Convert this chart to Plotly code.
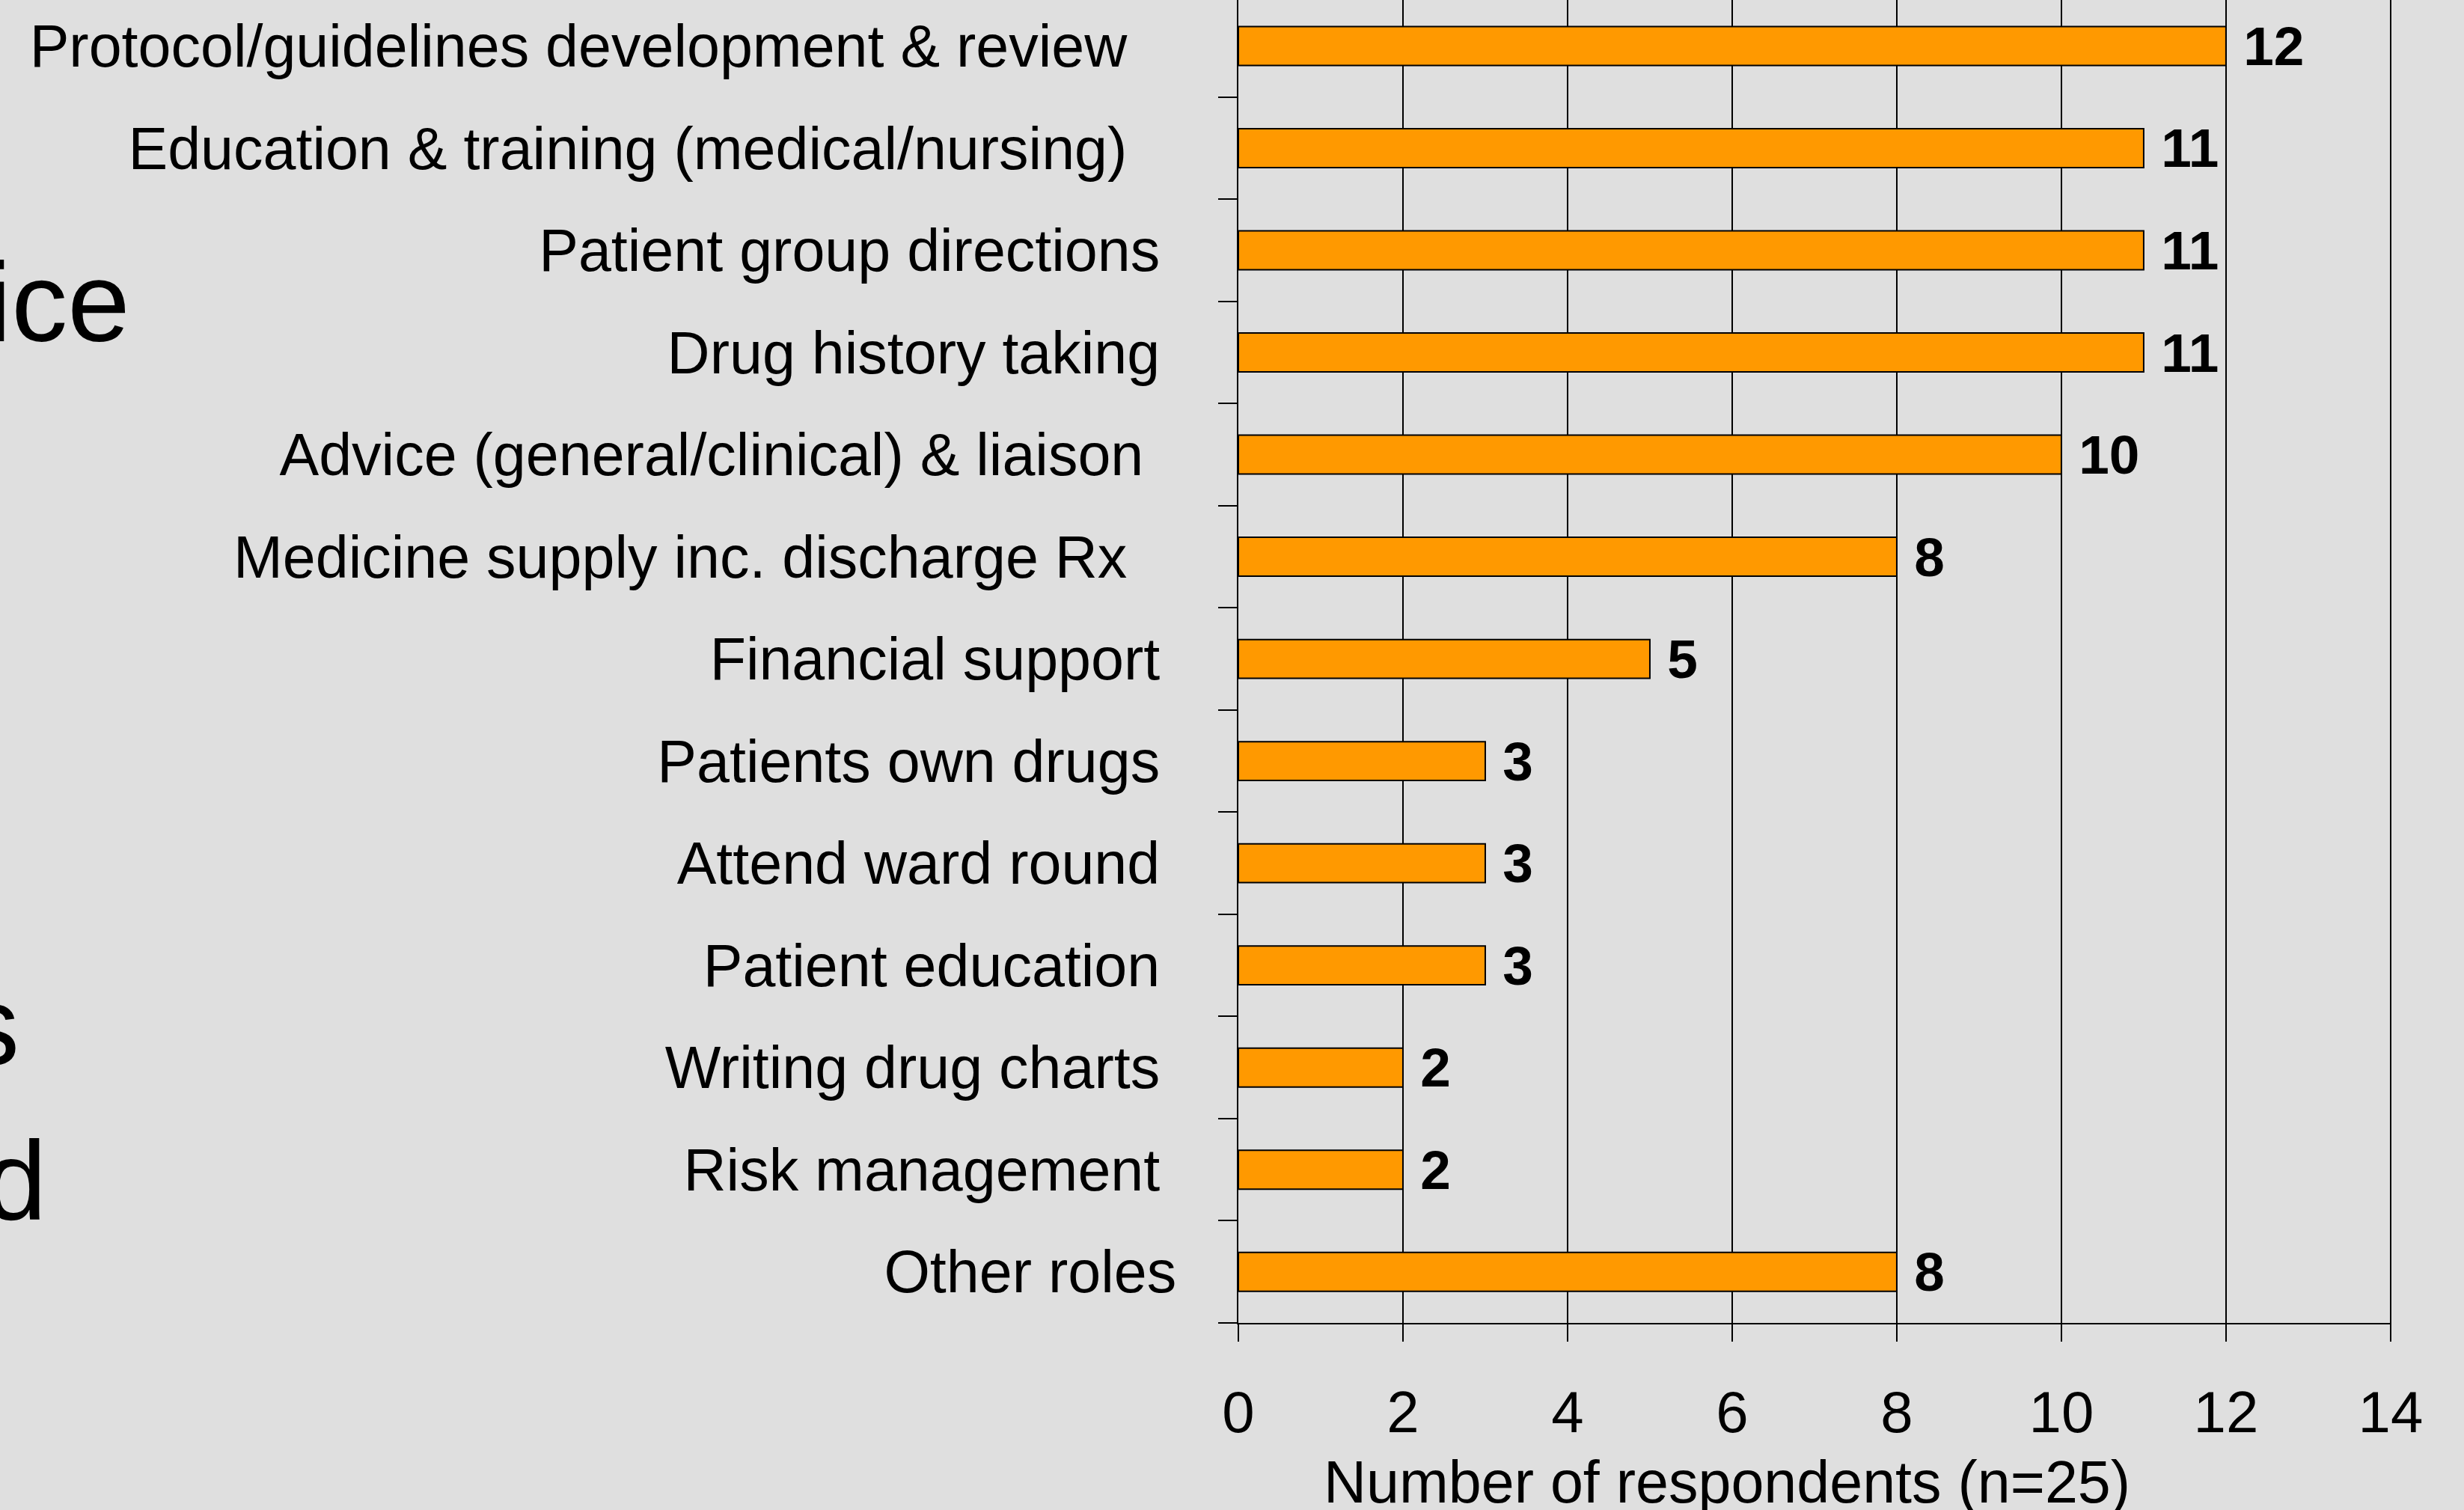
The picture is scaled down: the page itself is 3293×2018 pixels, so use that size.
import plotly.graph_objects as go

categories = [
    "Protocol/guidelines development & review",
    "Education & training (medical/nursing)",
    "Patient group directions",
    "Drug history taking",
    "Advice (general/clinical) & liaison",
    "Medicine supply inc. discharge Rx",
    "Financial support",
    "Patients own drugs",
    "Attend ward round",
    "Patient education",
    "Writing drug charts",
    "Risk management",
    "Other roles",
]
respondents = [12, 11, 11, 11, 10, 8, 5, 3, 3, 3, 2, 2, 8]
x_ticks = [0, 2, 4, 6, 8, 10, 12, 14]
x_title = "Number of respondents (n=25)"
background_fragments = ["ice", "s", "d"]

# trailing padding (in spaces) to mimic the slide's uneven label alignment
label_pad = [3, 3, 1, 1, 2, 3, 1, 1, 1, 1, 1, 1, 0]
tick_text = [c + "\u00a0" * p for c, p in zip(categories, label_pad)]

FONT = "Arial, 'Liberation Sans', sans-serif"
BG = "#dfdfdf"

fig = go.Figure(
    go.Bar(
        y=categories,
        x=respondents,
        orientation="h",
        width=0.38,
        marker=dict(color="#ff9900", line=dict(color="black", width=2)),
        text=respondents,
        texttemplate="\u00a0%{text}",
        textposition="outside",
        constraintext="none",
        cliponaxis=False,
        textfont=dict(family=FONT, size=73, color="black", weight="bold"),
        hoverinfo="skip",
    )
)

fig.update_layout(
    width=3293,
    height=2018,
    paper_bgcolor=BG,
    plot_bgcolor=BG,
    margin=dict(l=1655, r=97, t=0, b=250),
    showlegend=False,
    font=dict(family=FONT, color="black"),
)

fig.update_xaxes(
    range=[0, 14.01],
    tickvals=x_ticks,
    ticktext=[str(v) for v in x_ticks],
    showgrid=True,
    gridcolor="black",
    gridwidth=2,
    zeroline=False,
    showline=True,
    linecolor="black",
    linewidth=2,
    ticks="outside",
    ticklen=23,
    tickwidth=2,
    tickcolor="black",
    tickfont=dict(family=FONT, size=78, color="black"),
    ticklabelstandoff=27,
)

fig.update_yaxes(
    type="category",
    categoryorder="array",
    categoryarray=categories,
    tickvals=categories,
    ticktext=tick_text,
    range=[12.5, -0.45],
    tickson="boundaries",
    showgrid=False,
    zeroline=False,
    showline=True,
    linecolor="black",
    linewidth=2,
    ticks="outside",
    ticklen=25,
    tickwidth=2,
    tickcolor="black",
    tickfont=dict(family=FONT, size=79, color="black"),
    ticklabelstandoff=65,
)

# x-axis title (offset left of plot centre as in the slide)
fig.add_annotation(
    text=x_title, xref="paper", yref="paper", x=0.4237, y=-0.12,
    xanchor="center", yanchor="middle", showarrow=False, borderpad=0,
    font=dict(family=FONT, size=79, color="black"),
)

# cut-off slide text at the left edge
frag_pos = [(-0.9604, 0.7715), (-1.0565, 0.2245), (-1.033, 0.1075)]
for txt, (fx, fy) in zip(background_fragments, frag_pos):
    fig.add_annotation(
        text=txt, xref="paper", yref="paper", x=fx, y=fy,
        xanchor="right", yanchor="middle", showarrow=False, borderpad=0,
        font=dict(family=FONT, size=150, color="black"),
    )

fig.write_html(
    "out.html",
    config={"displayModeBar": False},
    post_script="document.body.style.margin='0';document.body.style.background='#dfdfdf';",
)
